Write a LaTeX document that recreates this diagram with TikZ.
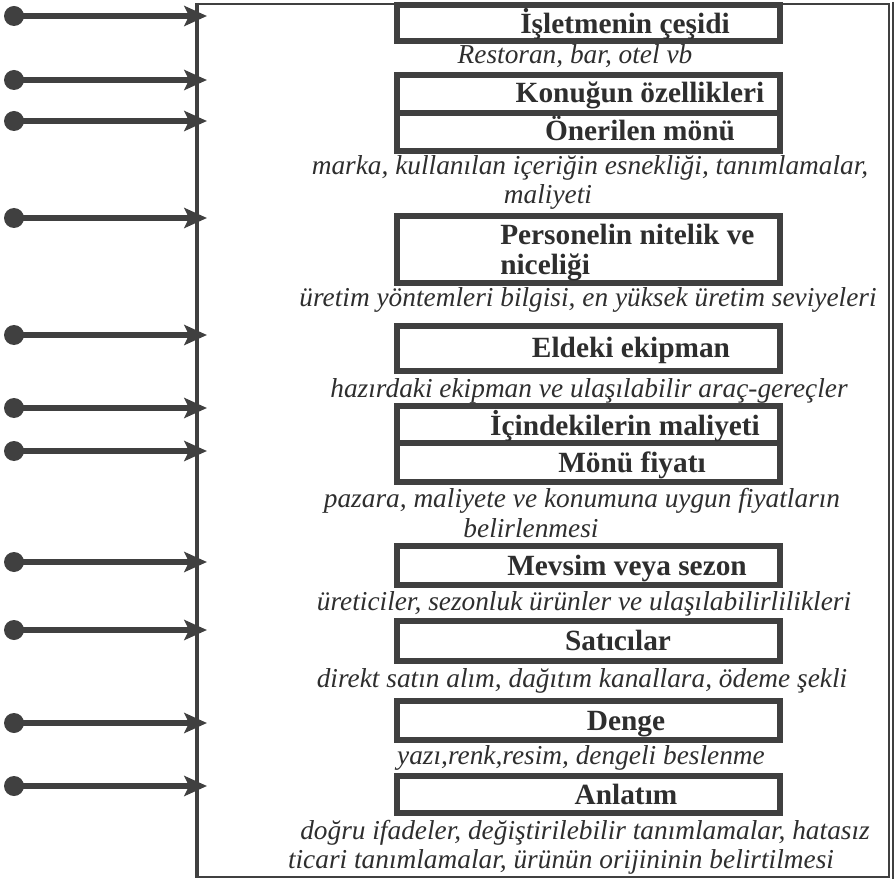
\documentclass[tikz,border=0pt]{standalone}
\usepackage{fontspec}
\setmainfont{Liberation Serif}
\usetikzlibrary{arrows.meta,fit}
\definecolor{ink}{HTML}{2E2E2E}
\definecolor{frm}{HTML}{404040}
\begin{document}
\begin{tikzpicture}[x=0.75pt,y=-0.75pt,
  lbl/.style={font=\fontsize{22}{30}\selectfont\bfseries, text=ink, inner sep=0pt, anchor=base},
  note/.style={font=\fontsize{20.5}{30}\selectfont\itshape, text=ink, inner sep=0pt, anchor=base},
  boxline/.style={draw=frm, line width=4.2pt, inner sep=0pt, rectangle},
  dotnode/.style={circle, fill=frm, minimum size=15pt, inner sep=0pt},
  arr/.style={draw=frm, line width=4pt, -{Stealth[length=17pt,width=15pt,inset=3.5pt]}}]
\useasboundingbox (0,0) rectangle (895,880);
% outer frame
\draw[frm, line width=1.8pt] (197,4) -- (889,4) -- (889,877) -- (197,877);
\draw[frm, line width=0.9pt] (893,2) -- (893,879);
\draw[frm, line width=2.8pt] (197,3) -- (197,878);
% boxes
\node[boxline, fit={(397,5)(780,41)}] (b1) {};
\node[boxline, fit={(397,75)(780,113)}] (b2) {};
\node[boxline, fit={(397,113)(780,151)}] (b3) {};
\node[boxline, fit={(397,216)(780,283)}] (b4) {};
\node[boxline, fit={(397,326)(780,371)}] (b5) {};
\node[boxline, fit={(397,406)(780,443)}] (b6) {};
\node[boxline, fit={(397,443)(780,482)}] (b7) {};
\node[boxline, fit={(397,546)(780,585)}] (b8) {};
\node[boxline, fit={(397,621)(780,661)}] (b9) {};
\node[boxline, fit={(397,701)(780,740)}] (b10) {};
\node[boxline, fit={(397,776)(780,813)}] (b11) {};
% box labels
\node[lbl] (l1) at (625,34) {İşletmenin çeşidi};
\node[lbl] (l2) at (640,103) {Konuğun özellikleri};
\node[lbl] (l3) at (640,141) {Önerilen mönü};
\node[lbl, anchor=base west] (l4a) at (500,245) {Personelin nitelik ve};
\node[lbl, anchor=base west] (l4b) at (500,275) {niceliği};
\node[lbl] (l5) at (631,358) {Eldeki ekipman};
\node[lbl] (l6) at (625,435) {İçindekilerin maliyeti};
\node[lbl] (l7) at (632,472) {Mönü fiyatı};
\node[lbl] (l8) at (627,575) {Mevsim veya sezon};
\node[lbl] (l9) at (618,650) {Satıcılar};
\node[lbl] (l10) at (626,730) {Denge};
\node[lbl] (l11) at (626,804) {Anlatım};
% notes
\node[note] (n1) at (575,64) {Restoran, bar, otel vb};
\node[note] (n2a) at (590,175) {marka, kullanılan içeriğin esnekliği, tanımlamalar,};
\node[note] (n2b) at (548,204) {maliyeti};
\node[note] (n3) at (588,307) {üretim yöntemleri bilgisi, en yüksek üretim seviyeleri};
\node[note] (n4) at (589,397) {hazırdaki ekipman ve ulaşılabilir araç-gereçler};
\node[note] (n5a) at (582,507) {pazara, maliyete ve konumuna uygun fiyatların};
\node[note] (n5b) at (531,537) {belirlenmesi};
\node[note] (n6) at (584,610) {üreticiler, sezonluk ürünler ve ulaşılabilirlilikleri};
\node[note] (n7) at (582,687) {direkt satın alım, dağıtım kanallara, ödeme şekli};
\node[note] (n8) at (581,764) {yazı,renk,resim, dengeli beslenme};
\node[note] (n9a) at (585,839) {doğru ifadeler, değiştirilebilir tanımlamalar, hatasız};
\node[note] (n9b) at (561,868) {ticari tanımlamalar, ürünün orijininin belirtilmesi};
% input arrows
\foreach \i/\yy in {1/16,2/80,3/121,4/218,5/335,6/408,7/451,8/562,9/630,10/723,11/786}{
  \node[dotnode] (d\i) at (14,\yy) {};
  \coordinate (t\i) at (207,\yy);
  \draw[arr] (d\i.center) -- (t\i);
}
\end{tikzpicture}
\end{document}
